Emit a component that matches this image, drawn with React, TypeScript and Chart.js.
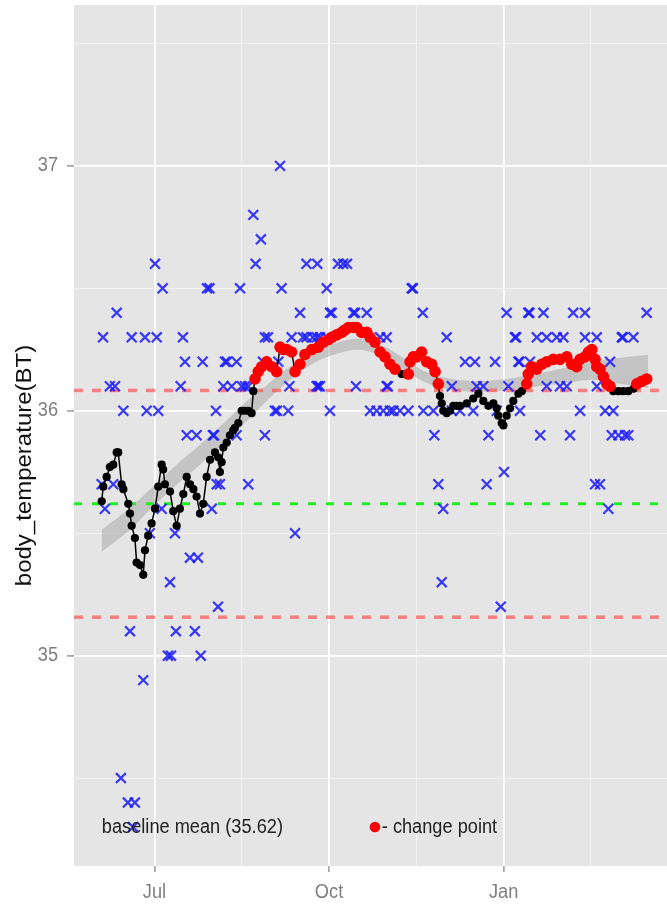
import React, { useEffect, useRef } from "react";
import { Chart, registerables } from "chart.js";

Chart.register(...registerables);

// ---- axis ticks (x = days since 1 Jul) ----
const xTickDays = [0, 92, 184];
const xTickLabels = ["Jul", "Oct", "Jan"];
const xMinorDays = [46, 138, 230];
const yTickValues = [35, 36, 37];
const yTickLabels = ["35", "36", "37"];
const yMinorValues = [34.5, 35.5, 36.5, 37.5];
const xRange = [-42.4, 273.8];
const yRange = [34.141, 37.657];
const yAxisTitle = "body_temperature(BT)";

// ---- reference lines ----
const baselineMean = 35.62;
const upperLimit = 36.083;
const lowerLimit = 35.157;

// ---- annotations ----
const baselineLabel = "baseline mean (35.62)";
const baselineLabelPos = [20.0, 34.3];
const changeLabel = "- change point";
const changeDotPos = [116.2, 34.3];
const changeLabelPos = [119.8, 34.3];

// ---- raw observations (blue crosses) ----
const obsDays = [
  -27.1, -27.8, -26.1, -23.5, -20.8, -21.7, -19.9, -17.7, -16.4, -14.0,
  -12.9, -12.0, -11.3, -10.3, -5.9, -5.0, -4.1, 0.3, 1.2, 2.0,
  3.8, 4.3, 8.2, 7.1, 8.7, 10.8, 11.3, 13.8, 15.0, 16.1,
  17.0, 18.7, 21.3, 22.2, 22.9, 24.4, 25.4, 27.7, 29.0, 30.2,
  30.8, 31.4, 32.4, 32.8, 33.5, 34.5, 36.3, 37.2, 38.2, 40.7,
  43.3, 43.3, 45.1, 46.0, 47.7, 49.4, 49.4, 52.1, 53.3, 56.1,
  57.2, 58.2, 58.2, 59.8, 63.5, 64.6, 65.3, 66.2, 67.0, 70.5,
  71.1, 72.3, 74.1, 76.7, 78.3, 80.1, 80.1, 83.5, 85.5, 85.8,
  85.5, 86.3, 87.2, 87.2, 90.8, 92.5, 93.4, 90.8, 92.5, 96.7,
  99.5, 101.5, 104.8, 106.2, 111.9, 105.7, 113.6, 117.1, 120.6, 124.1,
  125.9, 129.4, 118.9, 122.4, 122.4, 123.0, 133.8, 135.6, 136.2, 141.4,
  141.7, 147.0, 147.5, 149.6, 151.4, 152.2, 154.0, 156.7, 156.7, 161.0,
  168.0, 163.7, 168.9, 169.8, 173.3, 175.1, 176.0, 179.5, 180.4, 182.5,
  184.2, 185.6, 186.5, 190.0, 190.6, 191.8, 192.4, 192.6, 197.0, 197.6,
  197.9, 201.5, 203.3, 205.0, 206.7, 206.7, 212.0, 213.7, 215.5, 217.3,
  219.0, 220.7, 224.3, 226.9, 226.9, 232.2, 234.8, 233.1, 233.1, 237.5,
  239.2, 240.1, 241.0, 244.5, 248.0, 249.7, 241.8, 246.3, 246.9, 252.4,
  259.4, -2.4,
];
const obsTemps = [
  36.3, 35.7, 35.6, 36.1, 36.1, 35.7, 36.4, 34.5, 36.0, 34.4,
  35.1, 36.3, 34.3, 34.4, 34.9, 36.3, 36.0, 36.6, 36.3, 36.0,
  35.6, 36.5, 35.3, 35.0, 35.0, 35.5, 35.1, 36.1, 36.3, 36.2,
  35.9, 35.4, 35.1, 35.9, 35.4, 35.0, 36.2, 36.5, 36.5, 35.6,
  35.9, 35.9, 36.0, 35.7, 35.2, 35.7, 36.1, 36.2, 36.2, 36.1,
  36.2, 35.9, 36.5, 36.1, 36.1, 36.1, 35.7, 36.8, 36.6, 36.7,
  36.2, 35.9, 36.3, 36.3, 36.0, 36.0, 36.2, 37.0, 36.5, 36.0,
  36.1, 36.3, 35.5, 36.4, 36.3, 36.6, 36.3, 36.3, 36.3, 36.6,
  36.1, 36.1, 36.3, 36.1, 36.5, 36.4, 36.4, 36.3, 36.0, 36.6,
  36.6, 36.6, 36.4, 36.1, 36.4, 36.4, 36.0, 36.0, 36.0, 36.0,
  36.0, 36.0, 36.3, 36.3, 36.1, 36.1, 36.0, 36.5, 36.5, 36.4,
  36.0, 36.0, 35.9, 35.7, 35.3, 35.6, 36.3, 36.1, 36.0, 36.0,
  36.0, 36.2, 36.2, 36.1, 36.1, 35.7, 35.9, 36.2, 36.0, 35.2,
  35.75, 36.4, 36.1, 36.3, 36.3, 36.2, 36.2, 36.0, 36.4, 36.4,
  36.2, 36.3, 35.9, 36.4, 36.3, 36.1, 36.3, 36.1, 36.3, 36.1,
  35.9, 36.4, 36.0, 36.4, 36.3, 35.7, 35.7, 36.3, 36.1, 36.0,
  35.6, 36.2, 35.9, 35.9, 35.9, 35.9, 36.0, 36.3, 36.3, 36.3,
  36.4, 35.5,
];

// ---- running mean series (1 = change point) ----
const meanDays = [
  -27.8, -27.0, -25.2, -23.5, -21.7, -19.9, -19.1, -17.3, -16.4, -13.8,
  -12.9, -12.0, -10.3, -9.4, -7.6, -5.9, -5.0, -3.3, -1.5, 0.3,
  2.0, 3.8, 4.6, 5.5, 8.2, 9.9, 11.7, 13.4, 15.2, 17.0,
  18.7, 20.5, 22.2, 24.0, 25.7, 27.5, 29.3, 31.9, 33.6, 34.5,
  35.4, 36.3, 38.1, 39.8, 41.5, 42.4, 44.2, 46.0, 47.7, 49.4,
  51.2, 52.1,
  53.0, 54.7, 56.5, 59.1, 61.8, 64.4, 66.2, 67.9, 69.7, 72.3,
  74.1, 76.7, 79.3, 82.9, 86.3, 89.0, 91.6, 93.4, 96.0, 98.7,
  100.4, 102.2, 104.8, 106.6, 109.2, 111.9, 113.6, 116.2, 118.9, 121.5,
  124.1, 126.8,
  130.3,
  133.8, 134.7, 136.4, 138.2, 140.8, 143.5, 146.1, 147.9, 149.6,
  150.5, 151.4, 152.2, 154.0, 155.8, 157.5, 159.3, 161.0, 164.6, 168.0,
  170.7, 173.3, 176.0, 178.6, 180.4, 181.2, 183.0, 183.9, 185.6, 187.4,
  189.1, 191.8, 193.6,
  196.2, 197.0, 198.8, 201.5, 204.1, 206.7, 210.2, 213.7, 217.3, 219.9,
  222.5, 224.3, 226.9, 228.7, 230.5, 232.2, 233.1, 234.8, 236.6, 238.4,
  240.1,
  241.8, 244.5, 247.1, 249.7, 252.4,
  254.2, 256.8, 259.4,
];
const meanTemps = [
  35.63, 35.69, 35.73, 35.77, 35.78, 35.83, 35.83, 35.70, 35.68, 35.62,
  35.58, 35.53, 35.48, 35.38, 35.37, 35.33, 35.43, 35.49, 35.54, 35.60,
  35.69, 35.78, 35.76, 35.70, 35.67, 35.59, 35.53, 35.60, 35.66, 35.73,
  35.70, 35.68, 35.65, 35.58, 35.62, 35.73, 35.80, 35.83, 35.81, 35.75,
  35.79, 35.85, 35.87, 35.90, 35.92, 35.93, 35.95, 36.00, 36.00, 36.00,
  35.99, 36.08,
  36.13, 36.16, 36.18, 36.20, 36.18, 36.16, 36.26, 36.25, 36.25, 36.24,
  36.16, 36.19, 36.23, 36.25, 36.26, 36.28, 36.29, 36.30, 36.31, 36.32,
  36.33, 36.34, 36.34, 36.34, 36.32, 36.32, 36.30, 36.28, 36.24, 36.22,
  36.19, 36.17,
  36.15,
  36.15, 36.20, 36.22, 36.22, 36.24, 36.20, 36.19, 36.16, 36.11,
  36.06, 36.03, 36.00, 35.99, 36.00, 36.02, 36.02, 36.02, 36.03, 36.05,
  36.07, 36.04, 36.02, 36.03, 36.01, 35.98, 35.95, 35.94, 35.98, 36.01,
  36.04, 36.07, 36.08,
  36.11, 36.15, 36.18, 36.17, 36.19, 36.20, 36.21, 36.21, 36.22, 36.19,
  36.18, 36.21, 36.22, 36.24, 36.25, 36.21, 36.18, 36.17, 36.14, 36.11,
  36.10,
  36.08, 36.08, 36.08, 36.08, 36.09,
  36.11, 36.12, 36.13,
];
const meanChange = [
  0, 0, 0, 0, 0, 0, 0, 0, 0, 0, 0, 0, 0, 0, 0, 0, 0, 0, 0, 0,
  0, 0, 0, 0, 0, 0, 0, 0, 0, 0, 0, 0, 0, 0, 0, 0, 0, 0, 0, 0,
  0, 0, 0, 0, 0, 0, 0, 0, 0, 0, 0, 0,
  1, 1, 1, 1, 1, 1, 1, 1, 1, 1, 1, 1, 1, 1, 1, 1, 1, 1, 1, 1,
  1, 1, 1, 1, 1, 1, 1, 1, 1, 1, 1, 1,
  0,
  1, 1, 1, 1, 1, 1, 1, 1, 1,
  0, 0, 0, 0, 0, 0, 0, 0, 0, 0, 0, 0, 0, 0, 0, 0, 0, 0, 0, 0,
  0, 0, 0,
  1, 1, 1, 1, 1, 1, 1, 1, 1, 1, 1, 1, 1, 1, 1, 1, 1, 1, 1, 1,
  1,
  0, 0, 0, 0, 0,
  1, 1, 1,
];

// ---- smoother confidence band ----
const smoothDays = [
  -27.8, -12.9, 0.3, 13.4, 24.0, 37.2, 48.8, 58.2, 67.7, 78.3,
  87.2, 96.2, 105.7, 113.6, 121.5, 131.0, 140.0, 149.0, 159.5, 171.6,
  182.1, 196.3, 213.7, 231.1, 245.3, 260.1,
];
const smoothUpper = [
  35.514, 35.604, 35.698, 35.792, 35.861, 35.955, 36.041, 36.098, 36.159, 36.216,
  36.253, 36.278, 36.294, 36.286, 36.261, 36.216, 36.171, 36.143, 36.127, 36.122,
  36.127, 36.143, 36.171, 36.2, 36.216, 36.229,
];
const smoothLower = [
  35.424, 35.514, 35.616, 35.71, 35.78, 35.873, 35.959, 36.033, 36.102, 36.167,
  36.208, 36.233, 36.249, 36.241, 36.216, 36.171, 36.127, 36.098, 36.082, 36.078,
  36.082, 36.094, 36.11, 36.127, 36.11, 36.094,
];

const FONT = '"Liberation Sans", Arial, Helvetica, sans-serif';

function drawText(
  ctx: CanvasRenderingContext2D,
  text: string,
  x: number,
  y: number,
  size: number,
  color: string,
  align: CanvasTextAlign,
  rotate = false
) {
  ctx.save();
  ctx.translate(x, y);
  if (rotate) {
    ctx.rotate(-Math.PI / 2);
    ctx.scale(1, 0.91);
  } else {
    ctx.scale(0.91, 1);
  }
  ctx.font = `${size}px ${FONT}`;
  ctx.fillStyle = color;
  ctx.textAlign = align;
  ctx.textBaseline = "middle";
  ctx.fillText(text, 0, 0);
  ctx.restore();
}

export default function App() {
  const ref = useRef<HTMLCanvasElement | null>(null);

  useEffect(() => {
    const canvas = ref.current;
    if (!canvas) return;

    const pts = meanDays.map((d, i) => ({ x: d, y: meanTemps[i] }));
    const redPts = pts.filter((_, i) => meanChange[i] === 1);
    const blackPts = pts.filter((_, i) => meanChange[i] === 0);
    const obsPts = obsDays.map((d, i) => ({ x: d, y: obsTemps[i] }));
    const hline = (v: number) => [
      { x: xRange[0], y: v },
      { x: xRange[1], y: v },
    ];

    const panelPlugin = {
      id: "panelBg",
      beforeDraw(chart: any) {
        const { ctx, chartArea: a } = chart;
        ctx.save();
        ctx.fillStyle = "#E5E5E5";
        ctx.fillRect(a.left, a.top, a.right - a.left, a.bottom - a.top);
        ctx.restore();
      },
      afterDraw(chart: any) {
        const { ctx, chartArea: a } = chart;
        const xs = chart.scales.x;
        const ys = chart.scales.y;
        xTickDays.forEach((d, i) =>
          drawText(ctx, xTickLabels[i], xs.getPixelForValue(d), a.bottom + 26, 20, "#7F7F7F", "center")
        );
        yTickValues.forEach((v, i) =>
          drawText(ctx, yTickLabels[i], a.left - 16, ys.getPixelForValue(v), 20, "#7F7F7F", "right")
        );
        drawText(ctx, yAxisTitle, 25, (a.top + a.bottom) / 2 + 30, 24, "#111111", "center", true);
        // annotations
        drawText(
          ctx,
          baselineLabel,
          xs.getPixelForValue(baselineLabelPos[0]),
          ys.getPixelForValue(baselineLabelPos[1]),
          20,
          "#222222",
          "center"
        );
        ctx.save();
        ctx.fillStyle = "#FF0000";
        ctx.beginPath();
        ctx.arc(xs.getPixelForValue(changeDotPos[0]), ys.getPixelForValue(changeDotPos[1]), 5.3, 0, Math.PI * 2);
        ctx.fill();
        ctx.restore();
        drawText(
          ctx,
          changeLabel,
          xs.getPixelForValue(changeLabelPos[0]),
          ys.getPixelForValue(changeLabelPos[1]),
          20,
          "#222222",
          "left"
        );
      },
    };

    const chart = new Chart(canvas, {
      type: "scatter",
      data: {
        datasets: [
          {
            label: "change",
            data: redPts,
            pointRadius: 5.8,
            pointBackgroundColor: "#FF0000",
            pointBorderWidth: 0,
            borderWidth: 0,
            order: 0,
          } as any,
          {
            label: "normal",
            data: blackPts,
            pointRadius: 4.1,
            pointBackgroundColor: "#000000",
            pointBorderWidth: 0,
            borderWidth: 0,
            order: 1,
          } as any,
          {
            label: "mean line",
            data: pts,
            showLine: true,
            borderColor: "#000000",
            borderWidth: 1.5,
            pointRadius: 0,
            order: 2,
          } as any,
          {
            label: "observations",
            data: obsPts,
            pointStyle: "crossRot",
            pointRadius: 7,
            pointBorderColor: "rgba(25,25,255,0.85)",
            pointBorderWidth: 2.2,
            order: 3,
          } as any,
          {
            label: "upper",
            data: hline(upperLimit),
            showLine: true,
            borderColor: "rgba(255,60,60,0.6)",
            borderWidth: 3.5,
            borderDash: [9, 9],
            pointRadius: 0,
            order: 4,
          } as any,
          {
            label: "mean",
            data: hline(baselineMean),
            showLine: true,
            borderColor: "#22EE22",
            borderWidth: 3,
            borderDash: [8, 10],
            pointRadius: 0,
            order: 4,
          } as any,
          {
            label: "lower",
            data: hline(lowerLimit),
            showLine: true,
            borderColor: "rgba(255,60,60,0.6)",
            borderWidth: 3.5,
            borderDash: [9, 9],
            pointRadius: 0,
            order: 4,
          } as any,
          {
            label: "band upper",
            data: smoothDays.map((d, i) => ({ x: d, y: smoothUpper[i] })),
            showLine: true,
            borderWidth: 0,
            borderColor: "rgba(0,0,0,0)",
            backgroundColor: "rgba(150,150,150,0.42)",
            fill: "+1",
            tension: 0.3,
            pointRadius: 0,
            order: 6,
          } as any,
          {
            label: "band lower",
            data: smoothDays.map((d, i) => ({ x: d, y: smoothLower[i] })),
            showLine: true,
            borderWidth: 0,
            borderColor: "rgba(0,0,0,0)",
            tension: 0.3,
            pointRadius: 0,
            order: 7,
          } as any,
        ],
      },
      options: {
        animation: false,
        responsive: false,
        devicePixelRatio: 1,
        layout: { autoPadding: false, padding: { top: 5, left: 0, right: 0, bottom: 0 } },
        plugins: {
          legend: { display: false },
          tooltip: { enabled: false },
          title: { display: false },
        },
        events: [],
        scales: {
          x: {
            type: "linear",
            min: xRange[0],
            max: xRange[1],
            border: { display: false },
            afterBuildTicks: (s: any) => {
              s.ticks = [...xTickDays, ...xMinorDays].sort((a, b) => a - b).map((v) => ({ value: v }));
            },
            afterFit: (s: any) => {
              s.height = 38;
            },
            ticks: { display: false },
            grid: {
              color: (c: any) => (c.tick && xMinorDays.includes(c.tick.value) ? "#F2F2F2" : "#FFFFFF"),
              lineWidth: (c: any) => (c.tick && xMinorDays.includes(c.tick.value) ? 1 : 1.8),
              tickColor: (c: any) =>
                c.tick && xMinorDays.includes(c.tick.value) ? "rgba(0,0,0,0)" : "#888888",
              tickWidth: 1.3,
              tickLength: 6,
              drawTicks: true,
            },
          },
          y: {
            type: "linear",
            min: yRange[0],
            max: yRange[1],
            border: { display: false },
            afterBuildTicks: (s: any) => {
              s.ticks = [...yTickValues, ...yMinorValues].sort((a, b) => a - b).map((v) => ({ value: v }));
            },
            afterFit: (s: any) => {
              s.width = 74;
            },
            ticks: { display: false },
            grid: {
              color: (c: any) => (c.tick && yMinorValues.includes(c.tick.value) ? "#F2F2F2" : "#FFFFFF"),
              lineWidth: (c: any) => (c.tick && yMinorValues.includes(c.tick.value) ? 1 : 1.8),
              tickColor: (c: any) =>
                c.tick && yMinorValues.includes(c.tick.value) ? "rgba(0,0,0,0)" : "#888888",
              tickWidth: 1.3,
              tickLength: 7,
              drawTicks: true,
            },
          },
        },
      } as any,
      plugins: [panelPlugin],
    });

    return () => chart.destroy();
  }, []);

  return (
    <div
      style={{
        position: "absolute",
        left: 0,
        top: 0,
        width: 667,
        height: 904,
        overflow: "hidden",
        background: "#FFFFFF",
      }}
    >
      <canvas ref={ref} width={674} height={904} style={{ display: "block", width: 674, height: 904 }} />
    </div>
  );
}
